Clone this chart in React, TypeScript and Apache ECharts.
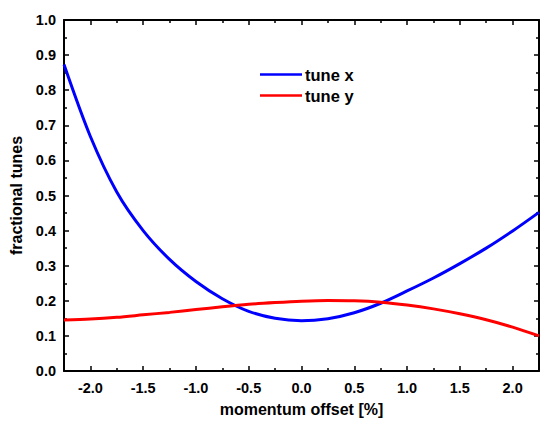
import React, { useEffect, useRef } from "react";
import * as echarts from "echarts";

const xValues = [-2.25, -2.0, -1.75, -1.5, -1.25, -1.0, -0.75, -0.5, -0.25, 0.0, 0.25, 0.5, 0.75, 1.0, 1.25, 1.5, 1.75, 2.0, 2.25];
const tuneX = [0.873, 0.668, 0.510, 0.400, 0.318, 0.255, 0.206, 0.170, 0.150, 0.143, 0.149, 0.166, 0.193, 0.228, 0.265, 0.306, 0.350, 0.399, 0.452];
const tuneY = [0.145, 0.148, 0.153, 0.160, 0.167, 0.175, 0.183, 0.190, 0.195, 0.199, 0.201, 0.200, 0.196, 0.188, 0.177, 0.163, 0.146, 0.125, 0.100];
const xMajorTicks = [-2.0, -1.5, -1.0, -0.5, 0.0, 0.5, 1.0, 1.5, 2.0];
const xMinorTicks = [-1.75, -1.25, -0.75, -0.25, 0.25, 0.75, 1.25, 1.75];

const FONT = "'Liberation Sans', Arial, sans-serif";

export default function App() {
  const ref = useRef<HTMLDivElement>(null);
  useEffect(() => {
    if (!ref.current) return;
    const chart = echarts.init(ref.current, null, { renderer: "svg" });
    const baseX = (position: string, ticks: number[], len: number, showLabel: boolean, showLine: boolean, extra: any = {}) => ({
      type: "value",
      position,
      min: -2.25,
      max: 2.25,
      axisLine: { show: showLine, onZero: false, lineStyle: { color: "#000", width: 2 } },
      axisTick: { show: true, inside: true, length: len, customValues: ticks, lineStyle: { color: "#000", width: 1.5 } },
      axisLabel: showLabel
        ? { show: true, customValues: ticks, margin: 9, formatter: (v: number) => v.toFixed(1), color: "#000", fontFamily: FONT, fontWeight: "bold", fontSize: 14.5 }
        : { show: false },
      splitLine: { show: false },
      ...extra,
    });
    const baseY = (position: string, showLabel: boolean, extra: any = {}) => ({
      type: "value",
      position,
      min: 0,
      max: 1,
      interval: 0.1,
      axisLine: { show: true, onZero: false, lineStyle: { color: "#000", width: 2 } },
      axisTick: { show: true, inside: true, length: 5, lineStyle: { color: "#000", width: 1.5 } },
      minorTick: { show: true, splitNumber: 2, length: 3, lineStyle: { color: "#000", width: 1.5 } },
      axisLabel: showLabel
        ? { show: true, margin: 8, formatter: (v: number) => v.toFixed(1), color: "#000", fontFamily: FONT, fontWeight: "bold", fontSize: 14.5 }
        : { show: false },
      splitLine: { show: false },
      minorSplitLine: { show: false },
      ...extra,
    });
    chart.setOption({
      animation: false,
      backgroundColor: "#fff",
      grid: { left: 64, right: 2, top: 20, bottom: 49, containLabel: false },
      legend: {
        orient: "vertical",
        left: 260,
        top: 66,
        padding: 0,
        itemWidth: 42,
        itemHeight: 16,
        itemGap: 4,
        icon: "path://M0,7 L42,7 L42,9.5 L0,9.5 Z",
        textStyle: { color: "#000", fontFamily: FONT, fontWeight: "bold", fontSize: 16.5, lineHeight: 16, padding: [0, 0, 0, -2] },
        data: ["tune x", "tune y"],
      },
      xAxis: [
        baseX("bottom", xMajorTicks, 5, true, true, {
          name: "momentum offset [%]",
          nameLocation: "middle",
          nameGap: 30,
          nameTextStyle: { color: "#000", fontFamily: FONT, fontWeight: "bold", fontSize: 16 },
        }),
        baseX("bottom", xMinorTicks, 3, false, false),
        baseX("top", xMajorTicks, 5, false, true),
        baseX("top", xMinorTicks, 3, false, false),
      ],
      yAxis: [
        baseY("left", true, {
          name: "fractional tunes",
          nameLocation: "middle",
          nameGap: 37,
          nameTextStyle: { color: "#000", fontFamily: FONT, fontWeight: "bold", fontSize: 16 },
        }),
        baseY("right", false),
      ],
      series: [
        {
          name: "tune x",
          type: "line",
          xAxisIndex: 0,
          yAxisIndex: 0,
          smooth: 0.3,
          showSymbol: false,
          symbol: "none",
          color: "#0000ff",
          lineStyle: { color: "#0000ff", width: 3 },
          data: xValues.map((x, i) => [x, tuneX[i]]),
        },
        {
          name: "tune y",
          type: "line",
          xAxisIndex: 0,
          yAxisIndex: 0,
          smooth: 0.3,
          showSymbol: false,
          symbol: "none",
          color: "#ff0000",
          lineStyle: { color: "#ff0000", width: 3 },
          data: xValues.map((x, i) => [x, tuneY[i]]),
        },
      ],
    });
    return () => chart.dispose();
  }, []);
  return <div ref={ref} style={{ position: "fixed", left: 0, top: 0, width: 541, height: 422, background: "#fff" }} />;
}
